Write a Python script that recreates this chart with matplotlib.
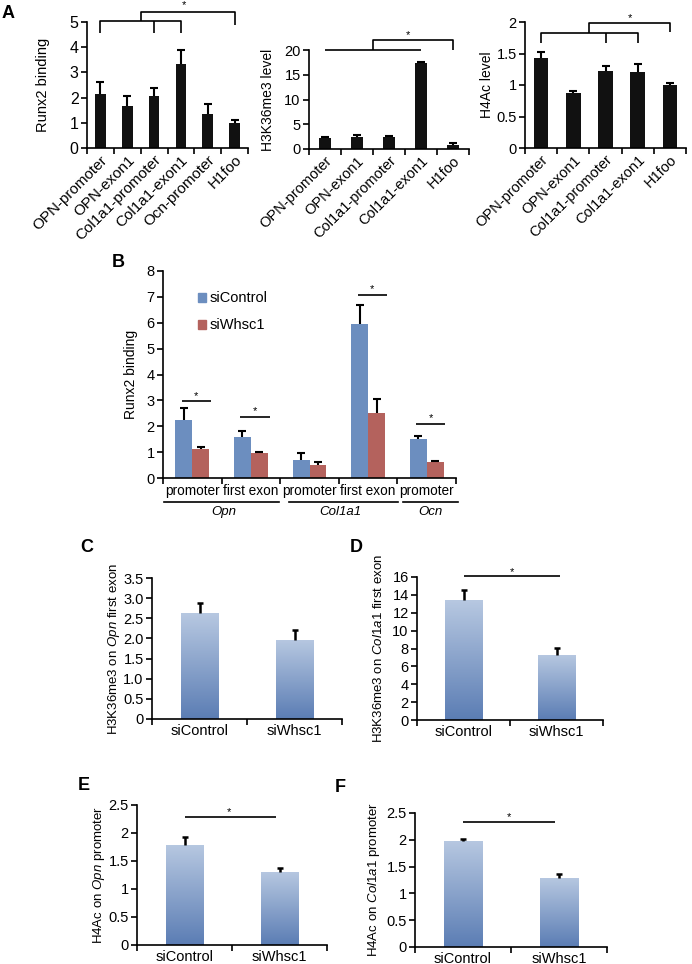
import numpy as np
import matplotlib
matplotlib.use("Agg")
import matplotlib.pyplot as plt
from matplotlib.colors import LinearSegmentedColormap
from matplotlib.patches import Patch

plt.rcParams['font.family'] = ['Liberation Sans', 'DejaVu Sans']
plt.rcParams['mathtext.fontset'] = 'custom'
plt.rcParams['mathtext.rm'] = 'Liberation Sans'
plt.rcParams['mathtext.it'] = 'Liberation Sans:italic'
plt.rcParams['axes.linewidth'] = 1.2

# ---- data ----
# panel A
a1_labels = ["OPN-promoter", "OPN-exon1", "Col1a1-promoter", "Col1a1-exon1", "Ocn-promoter", "H1foo"]
a1_vals = [2.15, 1.68, 2.05, 3.35, 1.35, 0.98]
a1_err = [0.45, 0.38, 0.32, 0.55, 0.38, 0.13]

a23_labels = ["OPN-promoter", "OPN-exon1", "Col1a1-promoter", "Col1a1-exon1", "H1foo"]
a2_vals = [2.2, 2.4, 2.4, 17.3, 0.8]
a2_err = [0.3, 0.35, 0.15, 0.35, 0.35]
a3_vals = [1.43, 0.87, 1.23, 1.21, 1.0]
a3_err = [0.09, 0.03, 0.07, 0.12, 0.03]

# panel B
b_labels = ["promoter", "first exon", "promoter", "first exon", "promoter"]
b_genes = ["Opn", "Col1a1", "Ocn"]
b_ctrl = [2.25, 1.57, 0.70, 5.95, 1.52]
b_ctrl_err = [0.45, 0.25, 0.25, 0.75, 0.10]
b_whsc = [1.13, 0.95, 0.50, 2.50, 0.60]
b_whsc_err = [0.05, 0.05, 0.10, 0.55, 0.05]
b_sig = [0, 1, 3, 4]   # groups marked with *

# panels C-F
cf_labels = ["siControl", "siWhsc1"]
c_vals = [2.62, 1.97]
c_err = [0.25, 0.25]
d_vals = [13.4, 7.3]
d_err = [1.2, 0.8]
e_vals = [1.79, 1.31]
e_err = [0.14, 0.06]
f_vals = [1.98, 1.29]
f_err = [0.04, 0.07]

W, H = 692, 964
fig = plt.figure(figsize=(W / 100, H / 100), dpi=100)


def px_axes(left, right, top, bottom):
    return fig.add_axes([left / W, 1 - bottom / H, (right - left) / W, (bottom - top) / H])


def style_axes(ax, n, ymax, yticks, yticklabels, fs):
    for s in ['top', 'right']:
        ax.spines[s].set_visible(False)
    ax.set_xlim(-0.5, n - 0.5)
    ax.set_ylim(0, ymax)
    ax.set_yticks(yticks)
    ax.set_yticklabels(yticklabels, fontsize=fs)
    ax.tick_params(axis='y', length=4, width=1.2, pad=2)
    ax.set_xticks(range(n))
    ax.set_xticks(np.arange(-0.5, n), minor=True)
    ax.tick_params(axis='x', which='major', length=0)
    ax.tick_params(axis='x', which='minor', length=4, width=1.2)


def up_err(ax, x, y, e, lw=1.5, cap=3):
    # only the upper half of the error bar, like excel
    _, caps, _ = ax.errorbar(x, y, yerr=[np.zeros(len(e)), e], fmt='none', ecolor='black',
                             elinewidth=lw, capsize=cap, capthick=lw, clip_on=False, zorder=3)
    caps[0].set_visible(False)


def line(ax, xs, ys):
    ax.plot(xs, ys, color='black', lw=1.2, clip_on=False, solid_capstyle='butt')


def star(ax, x, y):
    ax.text(x, y, "*", ha='center', va='center', fontsize=8)


# ---- A1 ----
ax = px_axes(87, 248, 22, 148)
x = np.arange(len(a1_labels))
ax.bar(x, a1_vals, width=0.4, color='#111111')
up_err(ax, x, a1_vals, a1_err)
style_axes(ax, 6, 5, range(6), [str(v) for v in range(6)], 11.5)
ax.set_xticklabels(a1_labels, rotation=45, ha='right', rotation_mode='anchor', fontsize=11)
ax.set_ylabel("Runx2 binding", fontsize=10.5)
ax.yaxis.set_label_coords(-0.23, 0.5)
line(ax, [0, 0, 3, 3], [4.56, 5.04, 5.04, 4.56])
line(ax, [2, 2], [5.04, 4.56])
line(ax, [1.5, 1.5, 5, 5], [5.04, 5.4, 5.4, 4.88])
star(ax, 3.1, 5.67)

# ---- A2 ----
ax = px_axes(309, 469, 50, 149)
x = np.arange(len(a23_labels))
ax.bar(x, a2_vals, width=0.4, color='#111111')
up_err(ax, x, a2_vals, a2_err)
style_axes(ax, 5, 20, [0, 5, 10, 15, 20], ["0", "5", "10", "15", "20"], 10.5)
ax.set_xticklabels(a23_labels, rotation=45, ha='right', rotation_mode='anchor', fontsize=10.5)
ax.set_ylabel("H3K36me3 level", fontsize=10)
ax.yaxis.set_label_coords(-0.21, 0.5)
line(ax, [0, 3], [20, 20])
line(ax, [1.5, 1.5, 4, 4], [20, 22, 22, 20])
star(ax, 2.6, 23.1)

# ---- A3 ----
ax = px_axes(525, 686, 22, 148)
ax.bar(x, a3_vals, width=0.45, color='#111111')
up_err(ax, x, a3_vals, a3_err)
style_axes(ax, 5, 2, [0, 0.5, 1, 1.5, 2], ["0", "0.5", "1", "1.5", "2"], 10.5)
ax.set_xticklabels(a23_labels, rotation=45, ha='right', rotation_mode='anchor', fontsize=10.5)
ax.set_ylabel("H4Ac level", fontsize=10)
ax.yaxis.set_label_coords(-0.19, 0.5)
line(ax, [0, 0, 3, 3], [1.67, 1.83, 1.83, 1.67])
line(ax, [2, 2], [1.83, 1.67])
line(ax, [1.5, 1.5, 4, 4], [1.83, 1.98, 1.98, 1.84])
star(ax, 2.75, 2.07)

# ---- B ----
ax = px_axes(163, 456, 271, 478)
x = np.arange(len(b_labels))
bw = 0.29
ax.bar(x - bw / 2, b_ctrl, width=bw, color='#6C8EBF')
ax.bar(x + bw / 2, b_whsc, width=bw, color='#B4625D')
up_err(ax, x - bw / 2, b_ctrl, b_ctrl_err)
up_err(ax, x + bw / 2, b_whsc, b_whsc_err)
style_axes(ax, 5, 8, range(9), [str(v) for v in range(9)], 10.5)
ax.set_xticklabels(b_labels, fontsize=9.8)
ax.tick_params(axis='x', which='major', pad=4)
ax.set_ylabel("Runx2 binding", fontsize=10)
ax.yaxis.set_label_coords(-0.085, 0.5)
for xi, yl in zip(b_sig, [2.96, 2.35, 7.08, 2.08]):
    line(ax, [xi - 0.18, xi + 0.32], [yl, yl])
    star(ax, xi + 0.07, yl + 0.22)
tr = ax.get_xaxis_transform()
for (x0, x1), xc, g in zip([(-0.48, 1.48), (1.65, 3.51), (3.6, 4.53)], [0.54, 2.52, 4.06], b_genes):
    ax.plot([x0, x1], [-0.116, -0.116], color='black', lw=1.2, transform=tr, clip_on=False)
    ax.text(xc, -0.165, g, transform=tr, ha='center', va='center', fontsize=9.5, style='italic')
handles = [Patch(color='#6C8EBF'), Patch(color='#B4625D')]
ax.legend(handles, ["siControl", "siWhsc1"], loc='upper left', bbox_to_anchor=(0.1, 0.93),
          frameon=False, fontsize=10.5, handlelength=0.55, handleheight=0.55,
          handletextpad=0.2, labelspacing=0.9, borderaxespad=0)

# ---- C-F gradient bars ----
grad_cmap = LinearSegmentedColormap.from_list("grad", ['#5B7DB4', '#B7C8E1'])


def grad_panel(box, vals, err, ymax, yticks, yticklabels, ylabel, lab_x):
    ax = px_axes(*box)
    xs = np.arange(len(vals))
    bars = ax.bar(xs, vals, width=0.4, color='none', edgecolor='none')
    g = np.linspace(0, 1, 256).reshape(-1, 1)
    for b in bars:
        x0, w, h = b.get_x(), b.get_width(), b.get_height()
        im = ax.imshow(g, extent=[x0, x0 + w, 0, h], origin='lower', aspect='auto',
                       cmap=grad_cmap, zorder=2)
        im.set_clip_path(b)
    up_err(ax, xs, vals, err, lw=1.8, cap=2.5)
    style_axes(ax, 2, ymax, yticks, yticklabels, 10.5)
    ax.set_xticklabels(cf_labels, fontsize=10.5)
    ax.set_ylabel(ylabel, fontsize=9.5)
    ax.yaxis.set_label_coords(lab_x, 0.5)
    return ax


ax = grad_panel((152, 342, 578, 719), c_vals, c_err, 3.5, np.arange(0, 3.6, 0.5),
                ["0", "0.5", "1.0", "1.5", "2.0", "2.5", "3.0", "3.5"],
                r"H3K36me3 on $\mathit{Opn}$ first exon", -0.16)

ax = grad_panel((417, 603, 577, 720), d_vals, d_err, 16, range(0, 17, 2),
                [str(v) for v in range(0, 17, 2)],
                r"H3K36me3 on $\mathit{Col1a1}$ first exon", -0.17)
line(ax, [0, 1.04], [16.1, 16.1])
star(ax, 0.52, 16.6)

ax = grad_panel((137, 327, 805, 945), e_vals, e_err, 2.5, [0, 0.5, 1, 1.5, 2, 2.5],
                ["0", "0.5", "1", "1.5", "2", "2.5"],
                r"H4Ac on $\mathit{Opn}$ promoter", -0.16)
line(ax, [0, 0.96], [2.28, 2.28])
star(ax, 0.47, 2.38)

ax = grad_panel((415, 607, 813, 947), f_vals, f_err, 2.5, [0, 0.5, 1, 1.5, 2, 2.5],
                ["0", "0.5", "1", "1.5", "2", "2.5"],
                r"H4Ac on $\mathit{Col1a1}$ promoter", -0.17)
line(ax, [0, 0.96], [2.34, 2.34])
star(ax, 0.48, 2.43)

# panel letters
for lab, px, py in [("A", 8, 13), ("B", 118, 263), ("C", 87, 548), ("D", 356, 548),
                    ("E", 84, 786), ("F", 340, 787)]:
    fig.text(px / W, 1 - py / H, lab, fontsize=13, fontweight='bold', ha='center', va='center')

fig.savefig("out.png", dpi=100)
